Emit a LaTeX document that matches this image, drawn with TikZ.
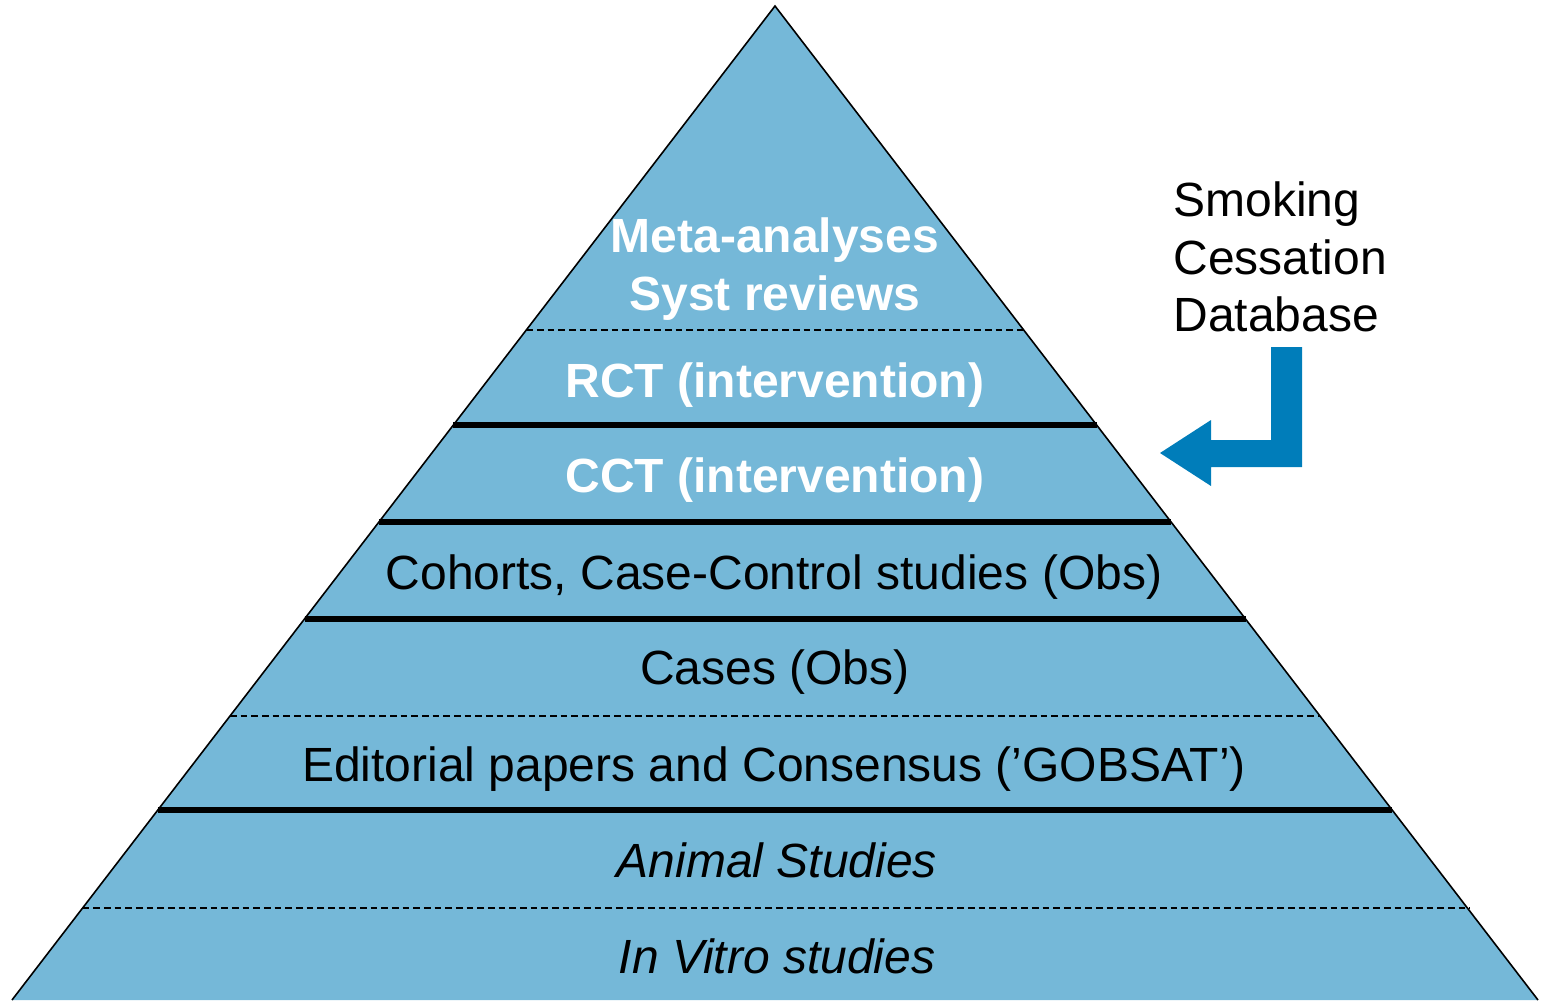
\documentclass[tikz,border=0pt]{standalone}
\usepackage{fontspec}
\setmainfont{Liberation Sans}

\definecolor{pyrblue}{RGB}{117,184,216}
\definecolor{arrowblue}{RGB}{0,125,186}

\tikzset{every picture/.style={line width=0.75pt}}
\tikzset{
  rowtext/.style={anchor=base, inner sep=0.75pt, font=\fontsize{36}{43}\selectfont},
  toprow/.style={rowtext, text=white, font=\fontsize{36}{43}\selectfont\bfseries},
  solidcut/.style={line width=4.2pt},
  dashcut/.style={line width=1.1pt, dash pattern={on 5pt off 3pt}},
}

\begin{document}
\begin{tikzpicture}[x=0.75pt,y=0.75pt,yscale=-1,xscale=1]
\useasboundingbox (0,0) rectangle (1546,1000);

%Shape: Triangle [id:pyramid]
\fill [pyrblue] (775,6) -- (1538,1000) -- (12,1000) -- cycle ;
\draw [line width=1.2pt] (12,1000) -- (775,6) -- (1538,1000) ;

%Straight Lines [id:cut1]
\draw [dashcut] (526.3,330) -- (1023.7,330) ;
%Straight Lines [id:cut2]
\draw [solidcut] (453.4,425) -- (1096.6,425) ;
%Straight Lines [id:cut3]
\draw [solidcut] (378.9,522) -- (1171.1,522) ;
%Straight Lines [id:cut4]
\draw [solidcut] (304.5,619) -- (1245.5,619) ;
%Straight Lines [id:cut5]
\draw [dashcut] (230,716) -- (1320,716) ;
%Straight Lines [id:cut6]
\draw [solidcut] (157.8,810) -- (1392.2,810) ;
%Straight Lines [id:cut7]
\draw [dashcut] (82.6,908) -- (1470,908) ;

%Shape: Bent Arrow [id:arrow]
\fill [arrowblue] (1271,347) -- (1302,347) -- (1302,467) -- (1211,467) -- (1211,486) -- (1160,453) -- (1211,420) -- (1211,440) -- (1271,440) -- cycle ;

% Text Node
\node [toprow, anchor=center, align=center] (meta) at (775,269) {Meta-analyses\\Syst reviews};
% Text Node
\node [toprow] (rct) at (775,397) {RCT (intervention)};
% Text Node
\node [toprow] (cct) at (775,492) {CCT (intervention)};
% Text Node
\node [rowtext] (cohorts) at (774,589) {Cohorts, Case-Control studies (Obs)};
% Text Node
\node [rowtext] (cases) at (775,684) {Cases (Obs)};
% Text Node
\node [rowtext] (editorial) at (774,781) {Editorial papers and Consensus (’GOBSAT’)};
% Text Node
\node [rowtext, font=\fontsize{36}{43}\selectfont\itshape] (animal) at (777,877) {Animal Studies};
% Text Node
\node [rowtext, font=\fontsize{36}{43}\selectfont\itshape] (invitro) at (777,973) {In Vitro studies};
% Text Node
\node [rowtext, anchor=west, align=left] (smoking) at (1172,257) {Smoking\\Cessation\\Database};

\end{tikzpicture}
\end{document}
